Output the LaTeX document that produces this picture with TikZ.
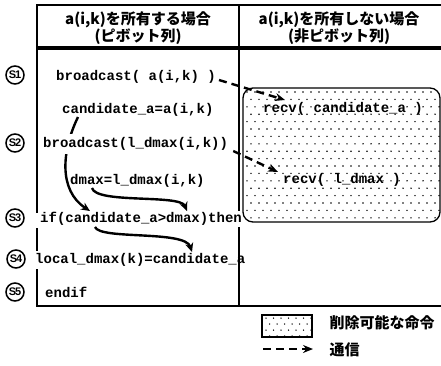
\documentclass[tikz,border=0pt]{standalone}
\usepackage{fontspec}
\setmainfont{Liberation Sans}
\newfontfamily\codefont{Liberation Mono}
\newfontfamily\jpfont{Noto Sans CJK JP}
\usetikzlibrary{arrows.meta,calc}
\pgfdeclarelayer{back}
\pgfdeclarelayer{mid}
\pgfsetlayers{back,mid,main}
\begin{document}
\begin{tikzpicture}[x=1pt,y=-1pt,
  code/.style={font=\codefont\bfseries\fontsize{14}{14}\selectfont, anchor=west, inner sep=1pt},
  hdr/.style={font=\jpfont\bfseries\fontsize{15}{17}\selectfont, align=center},
  lgtext/.style={font=\jpfont\bfseries\fontsize{15}{15}\selectfont, anchor=west},
  snum/.style={circle, draw, line width=1.5pt, minimum size=18pt, inner sep=0pt, font=\bfseries\fontsize{11}{11}\selectfont},
  frame/.style={line width=2.4pt},
  arr/.style={line width=2.4pt, -{Stealth[length=9pt,width=8pt]}},
  dasharr/.style={line width=2.4pt, dash pattern=on 8pt off 5pt, -{Stealth[length=10pt,width=8pt]}},
  dotbox/.style={line width=1.3pt, rounded corners=10pt}
]
\useasboundingbox (0,0) rectangle (441,365);

% header
\node[hdr] (h1) at (138,28) {a(i,k)を所有する場合\\(ピボット列)};
\node[hdr] (h2) at (339,28) {a(i,k)を所有しない場合\\(非ピボット列)};

% code, left column
\node[code] (n1) at (55,77) {broadcast( a(i,k) )};
\node[code] (n2) at (61,110) {candidate\_a=a(i,k)};
\node[code, fill=white, inner sep=3pt] (n3) at (40,144) {broadcast(l\_dmax(i,k))};
\node[code] (n4) at (69,181) {dmax=l\_dmax(i,k)};
\node[code] (n5) at (39,219) {if(candidate\_a>dmax)then};
\node[code] (n6) at (34,260) {local\_dmax(k)=candidate\_a};
\node[code] (n7) at (44,292) {endif};

% code, right column
\node[code] (r1) at (262,109) {recv( candidate\_a )};
\node[code] (r2) at (282,180) {recv( l\_dmax )};

% step labels
\node[snum] (s1) at (15,75) {S\kern-1pt1};
\node[snum] (s2) at (15,143) {S\kern-1pt2};
\node[snum] (s3) at (15,218) {S\kern-1pt3};
\node[snum] (s4) at (16,259) {S\kern-1pt4};
\node[snum] (s5) at (15,292) {S\kern-1pt5};

% removable box with dots
\begin{pgfonlayer}{back}
\begin{scope}
\clip[rounded corners=10pt] (243,88) rectangle (440,222);
\foreach \r in {0,...,18} {
  \foreach \c in {0,...,25} {
    \fill ({247+8*\c+4*mod(\r,2)}, {92+7.4*\r}) circle (0.8pt);
  }
}
\end{scope}
\draw[dotbox] (243,88) rectangle (440,222);
\end{pgfonlayer}

% arrows
\begin{pgfonlayer}{mid}
\draw[arr] ($(n2.west)+(17,7)$) .. controls (62,150) and (58,190) .. ($(n5.west)+(51,-8)$);
\draw[arr] ($(n4.west)+(23,7)$) .. controls (96,204) and (180,194) .. ($(n5.west)+(148,-8)$);
\draw[arr] ($(n5.west)+(56,8)$) .. controls (100,240) and (185,230) .. ($(n6.west)+(158,-8)$);
\draw[dasharr] ($(n1.east)+(2,3)$) -- ($(r1.west)+(23,-9)$);
\draw[dasharr] ($(n3.east)+(2,7)$) -- ($(r2.west)+(-4,-8)$);
\end{pgfonlayer}

% table frame
\draw[line width=2pt] (36,5) -- (442,5);
\draw[line width=4pt] (36,48) -- (442,48);
\draw[frame] (37,4) -- (37,213);
\draw[frame] (37,228) -- (37,251);
\draw[frame] (37,269) -- (37,307);
\draw[frame] (239,4) -- (239,211);
\draw[frame] (239,227) -- (239,307);
\draw[frame] (36,306) -- (442,306);

% legend
\node[draw, line width=1.3pt, minimum width=50pt, minimum height=22pt, inner sep=0pt] (lg1) at (287,326) {};
\begin{scope}
\clip (lg1.south west) rectangle (lg1.north east);
\foreach \r in {0,...,3} {
  \foreach \c in {0,...,7} {
    \fill ({266+7.5*\c+3.7*mod(\r,2)}, {318+6*\r}) circle (0.75pt);
  }
}
\end{scope}
\node[lgtext] (lt1) at (326,323) {削除可能な命令};
\coordinate (la) at (263,349);
\coordinate (lb) at (313,349);
\draw[dasharr] (la) -- (lb);
\node[lgtext] (lt2) at (326,350) {通信};
\end{tikzpicture}
\end{document}
